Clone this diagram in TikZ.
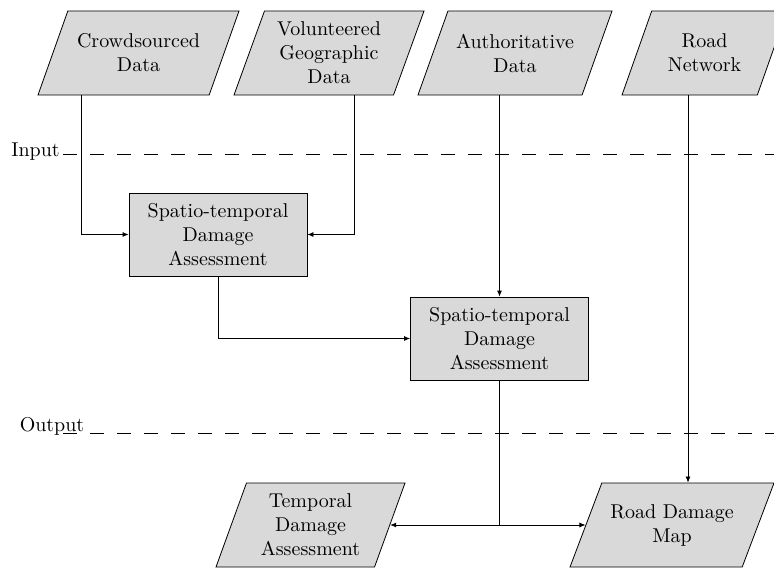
\documentclass[tikz,border=0pt]{standalone}
\usepackage{tikz}
\usetikzlibrary{arrows.meta,positioning,shapes.geometric,calc}
\tikzset{
    databox/.style={
        draw,
        trapezium,
        trapezium left angle=60,
        trapezium right angle=120,
        trapezium stretches body=true,
        align=center,
        minimum height=42pt,
        fill=gray!30
    },
    tallbox/.style={
        databox,
        trapezium left angle=68,
        trapezium right angle=112
    },
    procbox/.style={
        draw,
        rectangle,
        align=center,
        minimum height=41.5pt,
        minimum width=89pt,
        fill=gray!30
    },
    flow/.style={-{Latex[length=3pt,width=2.5pt]}},
    sep/.style={dash pattern=on 7pt off 6.5pt, line width=0.5pt}
}

\begin{document}
\begin{tikzpicture}[x=0.5pt,y=0.5pt]
    \useasboundingbox (0,0) rectangle (774,-567);
    \clip (0,0) rectangle (774,-567);
    % sources
    \node[databox, minimum width=100.5pt] (crowd) at (138.5,-53) {Crowdsourced\\Data};
    \node[tallbox, minimum width=95pt] (vgi) at (329,-53) {Volunteered\\Geographic\\Data};
    \node[databox, minimum width=97pt] (auth) at (515,-53) {Authoritative\\Data};
    \node[databox, minimum width=82.5pt] (roadnet) at (704.5,-53) {Road\\Network};
    % processing
    \node[procbox] (st1) at (218,-234.5) {Spatio-temporal\\Damage\\Assessment};
    \node[procbox] (st2) at (499.5,-338.5) {Spatio-temporal\\Damage\\Assessment};
    % results
    \node[tallbox, minimum width=94.5pt] (temporal) at (310.5,-525) {Temporal\\Damage\\Assessment};
    \node[databox, minimum width=102pt] (roadmap) at (672,-525) {Road Damage\\Map};
    % input / output levels
    \node[inner sep=0pt] (input) at (35.5,-152) {Input};
    \node[inner sep=0pt] (output) at (52,-426) {Output};
    \draw[sep] (63,-154) -- (774,-154);
    \draw[sep] (63,-433) -- (774,-433);
    \draw[flow] ([xshift=-28.75pt]crowd.south) |- (st1);
    \draw[flow] ([xshift=12.5pt]vgi.south) |- (st1);
    \draw[flow] (st2 |- auth.south) -- (st2);
    \draw[flow] (st1) |- (st2);
    \draw[flow] ([xshift=-8.25pt]roadnet.south) -- ([xshift=-8.25pt]roadnet.south |- roadmap.north);
    \draw[flow] (st2) |- (temporal);
    \draw[flow] (st2) |- (roadmap);
\end{tikzpicture}
\end{document}
